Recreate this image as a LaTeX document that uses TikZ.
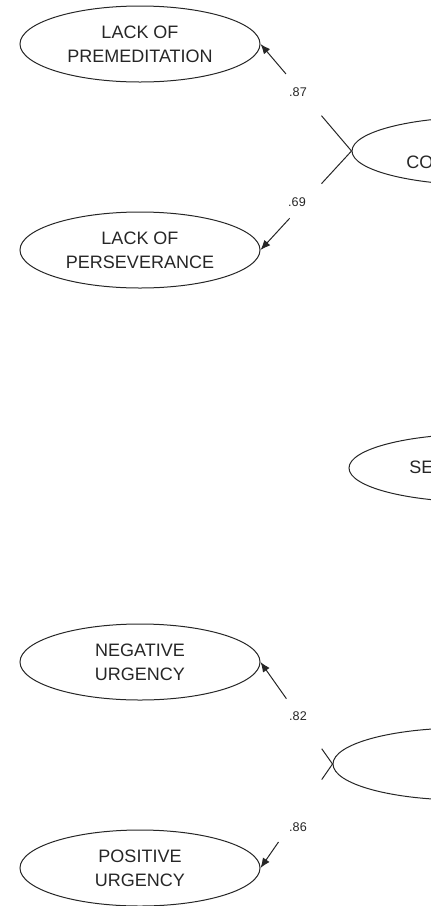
\documentclass[tikz,border=0pt]{standalone}
\usepackage{fontspec}
\setmainfont{Liberation Sans}
\usetikzlibrary{shapes.geometric,arrows.meta,calc}
\definecolor{inkgray}{HTML}{262626}
\tikzset{
  factor/.style={ellipse, draw=inkgray, line width=0.5pt, minimum width=120pt,
    minimum height=38pt, inner sep=0pt, align=center, text=inkgray,
    font=\fontsize{9}{12}\selectfont},
  higher/.style={factor, minimum width=130pt, minimum height=34pt},
  cutname/.style={anchor=base west, inner sep=0pt, text=inkgray,
    font=\fontsize{9}{12}\selectfont},
  loading/.style={draw=inkgray, line width=0.5pt},
  weight/.style={inner sep=0pt, text=inkgray, font=\fontsize{6.3}{7.5}\selectfont},
}
\begin{document}
\begin{tikzpicture}[x=0.5pt,y=-0.5pt]
  \useasboundingbox (0,0) rectangle (431,906);
  \clip (0,0) rectangle (431,906);
  % first-order factors
  \node[factor] (prem) at (140,44) {LACK OF\\PREMEDITATION};
  \node[factor] (pers) at (140,250) {LACK OF\\PERSEVERANCE};
  \node[factor] (neg) at (140,662) {NEGATIVE\\URGENCY};
  \node[factor] (pos) at (140,868) {POSITIVE\\URGENCY};
  % higher-order factors, cut off at the right edge
  \node[higher] (consc) at (482,151) {};
  \node[cutname] (consctext) at (406,168) {CO};
  \node[higher] (sens) at (479,468) {};
  \node[cutname] (senstext) at (409,473) {SE};
  \node[higher, minimum height=36pt] (urg) at (463,764) {};
  % loadings, broken where the weight sits
  \foreach \hi/\lo/\cut/\resume in {consc/prem/0.33/0.72, consc/pers/0.33/0.68,
      urg/neg/0.15/0.64, urg/pos/0.15/0.75} {
    \draw[loading] (\hi.west) -- ($(\hi.west)!\cut!(\lo.east)$);
    \draw[loading, -{Latex[length=5pt,width=4pt]}]
      ($(\hi.west)!\resume!(\lo.east)$) -- (\lo.east);
  }
  \node[weight] (w87) at (298,92) {.87};
  \node[weight] (w69) at (297,202) {.69};
  \node[weight] (w82) at (298,716) {.82};
  \node[weight] (w86) at (298,827) {.86};
\end{tikzpicture}
\end{document}
